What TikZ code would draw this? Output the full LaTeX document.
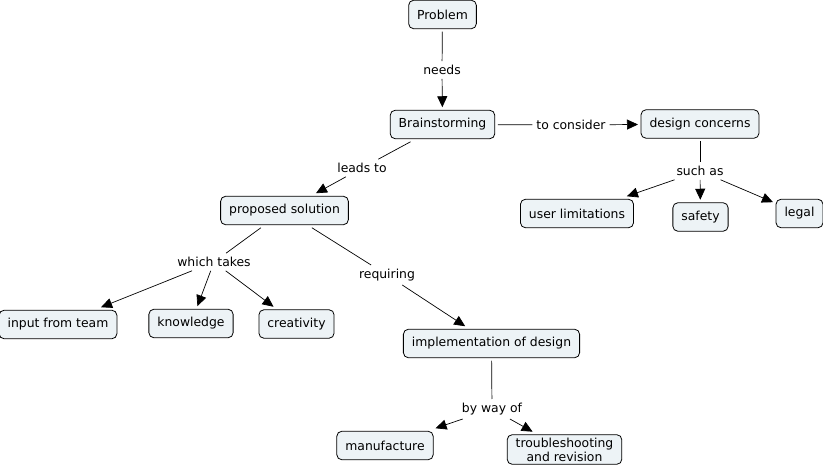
\documentclass[tikz,border=0pt]{standalone}
\usepackage{fontspec}
\setmainfont{DejaVu Sans}
\usepackage{xcolor}
\usetikzlibrary{arrows.meta}
\definecolor{cmapfill}{RGB}{237,243,246}
\tikzstyle{concept} = [rectangle, rounded corners=5pt, draw=black, line width=0.8pt, fill=cmapfill,
inner xsep=8.5pt, inner ysep=5pt, minimum height=28.5pt, outer sep=3pt, align=center, font=\fontsize{12.4}{14}\selectfont]
\tikzstyle{phrase} = [inner sep=2pt, outer sep=2pt, font=\fontsize{12.4}{14}\selectfont]
\tikzstyle{line} = [line width=0.7pt, -]
\tikzstyle{arrow} = [line width=0.7pt, -{Triangle[length=11pt,width=10pt]}]

\begin{document}
\begin{tikzpicture}[x=1pt,y=-1pt]
        \useasboundingbox (0,0) rectangle (823,473);

        % concepts
        \node[concept] (problem) at (442.5,14.5) {Problem};
        \node[concept] (brain) at (442.5,124.5) {Brainstorming};
        \node[concept] (concerns) at (700,124) {design concerns};
        \node[concept] (userlim) at (577,213.5) {user limitations};
        \node[concept] (safety) at (700.5,217) {safety};
        \node[concept] (legal) at (799.5,213.5) {legal};
        \node[concept] (proposed) at (284.5,210.5) {proposed solution};
        \node[concept] (input) at (58,324.5) {input from team};
        \node[concept] (knowledge) at (191,323.5) {knowledge};
        \node[concept] (creativity) at (296.5,324) {creativity};
        \node[concept] (implement) at (491.5,343.5) {implementation of design};
        \node[concept] (manufacture) at (385,445.5) {manufacture};
        \node[concept, inner ysep=3pt] (trouble) at (564.5,449.5) {troubleshooting\\and revision};

        % linking phrases
        \node[phrase] (needs) at (442,70) {needs};
        \node[phrase] (consider) at (571,125) {to consider};
        \node[phrase] (suchas) at (700,171) {such as};
        \node[phrase] (leadsto) at (362,168) {leads to};
        \node[phrase] (takes) at (214,262) {which takes};
        \node[phrase] (requiring) at (387,275) {requiring};
        \node[phrase] (byway) at (492,409) {by way of};

        \draw[line] (problem) -- (needs);
        \draw[arrow] (needs) -- (brain);
        \draw[line] (brain) -- (consider);
        \draw[arrow] (consider) -- (concerns);
        \draw[line] (concerns) -- (suchas);
        \draw[arrow] (suchas) -- (userlim);
        \draw[arrow] (suchas) -- (safety);
        \draw[arrow] (suchas) -- (legal);
        \draw[line] (brain) -- (leadsto);
        \draw[arrow] (leadsto) -- (proposed);
        \draw[line] (proposed) -- (takes);
        \draw[arrow] (takes) -- (input);
        \draw[arrow] (takes) -- (knowledge);
        \draw[arrow] (takes) -- (creativity);
        \draw[line] (proposed) -- (requiring);
        \draw[arrow] (requiring) -- (implement);
        \draw[line] (implement) -- (byway);
        \draw[arrow] (byway) -- (manufacture);
        \draw[arrow] (byway) -- (trouble);

    \end{tikzpicture}
\end{document}
